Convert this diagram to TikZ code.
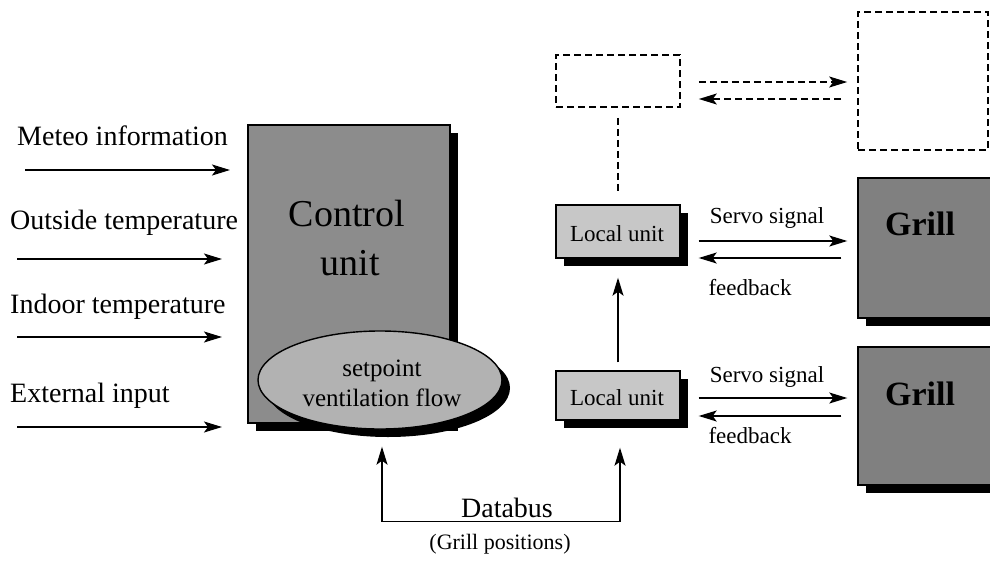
\documentclass[tikz,border=0pt]{standalone}
\usepackage{fontspec}
\setmainfont{Liberation Serif}
\usetikzlibrary{arrows.meta,calc,shadows,shapes.geometric}
\newcommand{\fs}[1]{\fontsize{#1}{#1}\selectfont}
\tikzset{
  arr/.style={line width=1.4pt,-{Stealth[length=18pt,width=11pt,inset=4pt]}},
  barr/.style={line width=1.4pt,{Stealth[length=18pt,width=11pt,inset=4pt]}-{Stealth[length=18pt,width=11pt,inset=4pt]}},
  darr/.style={line width=1.8pt,dash pattern=on 7pt off 4pt,-{Stealth[length=18pt,width=11pt,inset=4pt]}},
  dline/.style={line width=1.8pt,dash pattern=on 7pt off 4pt},
  dbox/.style={draw,line width=1.6pt,dash pattern=on 7pt off 4pt,inner sep=0pt},
  shd/.style={drop shadow={shadow xshift=8pt,shadow yshift=-8pt,opacity=1,fill=black}},
  tex/.style={draw,line width=1.4pt,inner sep=0pt,shd},
  lbl/.style={inner sep=0pt,anchor=base west,font=\fs{28}},
  small/.style={inner sep=0pt,font=\fs{23}},
}
\begin{document}
\begin{tikzpicture}[x=1pt,y=-1pt]
\useasboundingbox (0,0) rectangle (990,562);
\clip (0,0) rectangle (990,562);

% control unit
\node[tex,fill=black!45,minimum width=202pt,minimum height=298pt] (CU) at (349,274) {};
\node[inner sep=0pt,font=\fs{38}] (CUt1) at (347,213) {Control};
\node[inner sep=0pt,font=\fs{38}] (CUt2) at (350,263) {unit};
\node[ellipse,tex,fill=black!30,minimum width=244pt,minimum height=98pt] (E) at (380,380) {};
\node[inner sep=0pt,font=\fontsize{25}{30}\selectfont,align=center] (Et) at (382,383) {setpoint\\ventilation flow};

% inputs
\node[lbl] (L1) at (17,145) {Meteo information};
\node[lbl] (L2) at (10,229) {Outside temperature};
\node[lbl] (L3) at (10,313) {Indoor temperature};
\node[lbl] (L4) at (10,402) {External input};
\coordinate (a1s) at (25,170);  \coordinate (a1e) at (230,170);
\coordinate (a2s) at (17,259);  \coordinate (a2e) at (222,259);
\coordinate (a3s) at (17,337);  \coordinate (a3e) at (222,337);
\coordinate (a4s) at (17,427);  \coordinate (a4e) at (222,427);
\draw[arr] (a1s) -- (a1e);
\draw[arr] (a2s) -- (a2e);
\draw[arr] (a3s) -- (a3e);
\draw[arr] (a4s) -- (a4e);

% dashed boxes
\node[dbox,minimum width=124pt,minimum height=52pt] (D1) at (618,81) {};
\node[dbox,minimum width=130pt,minimum height=138pt] (D2) at (923,81) {};
\draw[darr] ($(D1.east)+(18,1)$) -- ($(D2.west)+(-10,1)$);
\draw[darr] ($(D2.west)+(-16,18)$) -- ($(D1.east)+(18,18)$);

% local units
\node[tex,fill=black!22,minimum width=124pt,minimum height=53pt] (LU1) at (618,231.5) {};
\node[inner sep=0pt,font=\fs{23}] (LU1t) at (617,234) {Local unit};
\node[tex,fill=black!22,minimum width=124pt,minimum height=49pt] (LU2) at (618,395.5) {};
\node[inner sep=0pt,font=\fs{23}] (LU2t) at (617,398) {Local unit};
\draw[dline] ($(D1.south)+(0,10)$) -- ($(LU1.north)+(0,-10)$);
\draw[arr] ($(LU2.north)+(0,-8)$) -- ($(LU1.south)+(0,19)$);

% grills
\node[tex,fill=black!50,minimum width=142pt,minimum height=140pt] (G1) at (929,248) {};
\node[inner sep=0pt,font=\bfseries\fs{34}] (G1t) at (920,224) {Grill};
\node[tex,fill=black!50,minimum width=142pt,minimum height=138pt] (G2) at (929,416) {};
\node[inner sep=0pt,font=\bfseries\fs{34}] (G2t) at (920,394) {Grill};

% servo / feedback
\draw[arr] ($(LU1.east)+(18,9.5)$) -- ($(G1.west)+(-10,-7)$);
\draw[arr] ($(G1.west)+(-16,10)$) -- ($(LU1.east)+(18,26.5)$);
\node[small] (S1) at (767,218) {Servo signal};
\node[small] (F1) at (750,288) {feedback};
\draw[arr] ($(LU2.east)+(18,2.5)$) -- ($(G2.west)+(-10,-18)$);
\draw[arr] ($(G2.west)+(-16,0)$) -- ($(LU2.east)+(18,20.5)$);
\node[small] (S2) at (767,377) {Servo signal};
\node[small] (F2) at (750,436) {feedback};

% databus
\draw[barr] ($(E.south)+(2,17)$) -- ++(0,75) -| ($(LU2.south)+(2,27)$);
\node[inner sep=0pt,font=\fs{28}] (DB) at (507,508) {Databus};
\node[inner sep=0pt,font=\fs{22}] (GP) at (500,544) {(Grill positions)};
\end{tikzpicture}
\end{document}
